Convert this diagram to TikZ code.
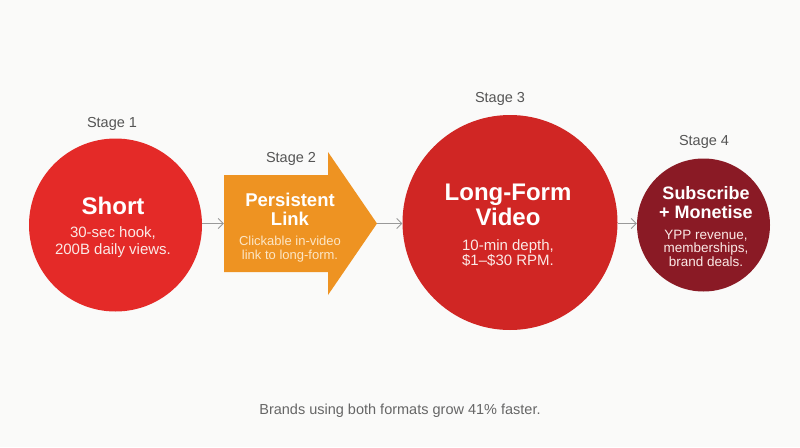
\documentclass[tikz,border=0pt]{standalone}
\usepackage{fontspec}
\setmainfont{Liberation Sans}
\usetikzlibrary{arrows.meta}
\definecolor{bg}{HTML}{FAFAF9}
\definecolor{redA}{HTML}{E42A28}
\definecolor{orangeA}{HTML}{EE9322}
\definecolor{redB}{HTML}{D02624}
\definecolor{maroon}{HTML}{8A1A25}
\definecolor{stagegray}{HTML}{555555}
\definecolor{capgray}{HTML}{666666}
\definecolor{conn}{HTML}{999999}
\definecolor{subwhite}{HTML}{FBE9E6}
\definecolor{subcream}{HTML}{FCE6C6}
\tikzset{
  stagecirc/.style={circle, inner sep=0pt},
  txt/.style={anchor=base, inner sep=0pt},
  hdrA/.style={txt, text=white, font=\fontsize{24}{28}\selectfont\bfseries},
  hdrB/.style={txt, text=white, font=\fontsize{18.5}{22}\selectfont\bfseries},
  hdrD/.style={txt, text=white, font=\fontsize{18}{22}\selectfont\bfseries},
  subA/.style={txt, text=subwhite, font=\fontsize{15}{18}\selectfont},
  subB/.style={txt, text=subcream, font=\fontsize{13}{16}\selectfont},
  subD/.style={txt, text=subwhite, font=\fontsize{13.5}{16}\selectfont},
  stagelbl/.style={text=stagegray, font=\fontsize{14.5}{17}\selectfont},
  conn/.style={draw=conn, line width=0.9pt, -{Straight Barb[length=5pt,width=10pt]}},
}
\begin{document}
\begin{tikzpicture}[x=1pt,y=-1pt]
\fill[bg] (0,0) rectangle (800,447);
\useasboundingbox (0,0) rectangle (800,447);

% Stage 1
\node[stagecirc, fill=redA, minimum size=173pt] (short) at (115.5,225) {};
\node[hdrA] (shortT) at (113,214) {Short};
\node[subA] (shortS1) at (113,237) {30-sec hook,};
\node[subA] (shortS2) at (113,254) {200B daily views.};
\node[stagelbl] (s1) at (112,124) {Stage 1};

% Stage 2 (arrow shape)
\fill[orangeA] (224,175) -- (328,175) -- (328,152) -- (377,223.5) -- (328,295) -- (328,272) -- (224,272) -- cycle;
\node[inner sep=0pt, minimum width=153pt, minimum height=143pt] (link) at (300.5,223.5) {};
\node[hdrB] (linkT1) at (290,206) {Persistent};
\node[hdrB] (linkT2) at (290,225) {Link};
\node[subB] (linkS1) at (290,245) {Clickable in-video};
\node[subB] (linkS2) at (290,259) {link to long-form.};
\node[stagelbl] (s2) at (291,159) {Stage 2};

% Stage 3
\node[stagecirc, fill=redB, minimum size=215pt] (long) at (510,222.5) {};
\node[hdrA] (longT1) at (508,200) {Long-Form};
\node[hdrA] (longT2) at (508,225) {Video};
\node[subA] (longS1) at (508,250) {10-min depth,};
\node[subA] (longS2) at (508,265.5) {\$1–\$30 RPM.};
\node[stagelbl] (s3) at (500,99) {Stage 3};

% Stage 4
\node[stagecirc, fill=maroon, minimum size=133pt] (sub) at (703.5,225) {};
\node[hdrD] (subT1) at (706,199) {Subscribe};
\node[hdrD] (subT2) at (706,218.5) {+ Monetise};
\node[subD] (subS1) at (706,239) {YPP revenue,};
\node[subD] (subS2) at (706,252.5) {memberships,};
\node[subD] (subS3) at (706,266) {brand deals.};
\node[stagelbl] (s4) at (704,142) {Stage 4};

% connectors (horizontal at the arrow's axis)
\draw[conn] (short.east |- link.west) -- (link.west);
\draw[conn] (link.east) -- (long.west |- link.east);
\draw[conn] (long.east |- link.east) -- (sub.west |- link.east);

% caption
\node[text=capgray, font=\fontsize{14.5}{17}\selectfont] (cap) at (400,411) {Brands using both formats grow 41\% faster.};
\end{tikzpicture}
\end{document}
